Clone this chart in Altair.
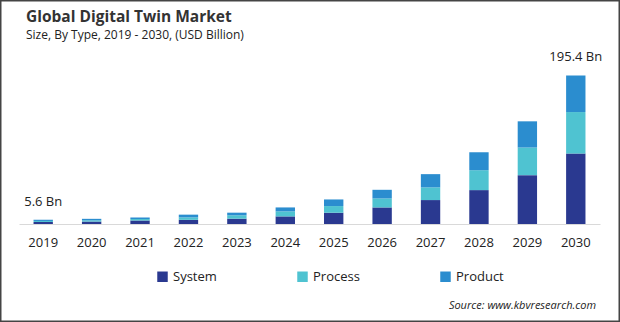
import altair as alt
import pandas as pd

years = ["2019", "2020", "2021", "2022", "2023", "2024", "2025", "2026", "2027", "2028", "2029", "2030"]
system = [2.6, 3.2, 4.5, 5.5, 7.0, 10.0, 14.8, 21.8, 31.5, 44.6, 64.3, 92.7]
process = [1.4, 1.7, 2.0, 3.2, 4.4, 6.6, 8.8, 11.8, 16.7, 26.2, 36.3, 54.6]
product = [1.6, 1.9, 2.2, 3.6, 3.5, 5.2, 8.7, 11.4, 17.4, 23.6, 34.5, 48.1]
segments = ["System", "Process", "Product"]
colors = ["#2a3990", "#4fc3d1", "#2b8dcf"]

annot_years = ["2019", "2030"]
annot_values = [5.6, 195.4]
annot_labels = ["5.6 Bn", "195.4 Bn"]

title_text = "Global Digital Twin Market"
subtitle_text = "Size, By Type, 2019 - 2030, (USD Billion)"
source_text = "Source: www.kbvresearch.com"

FONT = "Open Sans"

rows = []
for i, y in enumerate(years):
    for s, vals in zip(segments, [system, process, product]):
        rows.append({"Year": y, "Segment": s, "Value": vals[i], "order": segments.index(s)})
df = pd.DataFrame(rows)

ann = pd.DataFrame({"Year": annot_years, "Total": annot_values, "Label": annot_labels})

x_enc = alt.X("Year:N", sort=years,
              scale=alt.Scale(paddingInner=0.6, paddingOuter=0.3),
              axis=alt.Axis(title=None, labelAngle=0, ticks=False, domain=True,
                            domainColor="#d9d9d9", domainWidth=1,
                            labelFont=FONT, labelFontSize=13, labelColor="#222222",
                            labelPadding=12, grid=False))
y_scale = alt.Scale(domain=[0, 200], nice=False)

bars = alt.Chart(df).mark_bar().encode(
    x=x_enc,
    y=alt.Y("Value:Q", stack="zero", scale=y_scale, axis=None),
    color=alt.Color("Segment:N", sort=segments,
                    scale=alt.Scale(domain=segments, range=colors),
                    legend=alt.Legend(title=None, orient="none", direction="horizontal",
                                      legendX=137, legendY=198,
                                      symbolType="square", symbolSize=110,
                                      symbolStrokeWidth=0,
                                      labelFont=FONT, labelFontSize=13,
                                      labelColor="#222222", labelOffset=4,
                                      columnPadding=79)),
    order=alt.Order("order:Q", sort="ascending"),
)

labels = alt.Chart(ann).mark_text(font=FONT, fontSize=13, color="#222222",
                                  baseline="alphabetic", dy=-14).encode(
    x=alt.X("Year:N", sort=years),
    y=alt.Y("Total:Q", scale=y_scale),
    text="Label:N",
)

title = alt.Chart(pd.DataFrame({"t": [title_text]})).mark_text(
    font=FONT, fontSize=15.5, fontWeight="bold", color="#333333",
    align="left", baseline="alphabetic").encode(
    text="t:N", x=alt.value(7), y=alt.value(-50))

subtitle = alt.Chart(pd.DataFrame({"t": [subtitle_text]})).mark_text(
    font=FONT, fontSize=12, color="#222222",
    align="left", baseline="alphabetic").encode(
    text="t:N", x=alt.value(7), y=alt.value(-33))

source = alt.Chart(pd.DataFrame({"t": [source_text]})).mark_text(
    font=FONT, fontSize=11, fontStyle="italic", color="#222222",
    align="right", baseline="alphabetic").encode(
    text="t:N", x=alt.value(577), y=alt.value(237))

border = alt.Chart(pd.DataFrame({"a": [0]})).mark_rect(
    fill=None, stroke="#444444", strokeWidth=1.5).encode(
    x=alt.value(-18.25), x2=alt.value(600.25), y=alt.value(-71.25), y2=alt.value(249.25))

chart = alt.layer(bars, labels, title, subtitle, source, border).properties(
    width=581, height=152,
    padding={"left": 19, "top": 72, "right": 20, "bottom": 98},
    autosize=alt.AutoSizeParams(type="none"),
    background="white",
).configure_view(stroke=None)

chart.save("out.html", embed_options={"renderer": "svg", "actions": False})
